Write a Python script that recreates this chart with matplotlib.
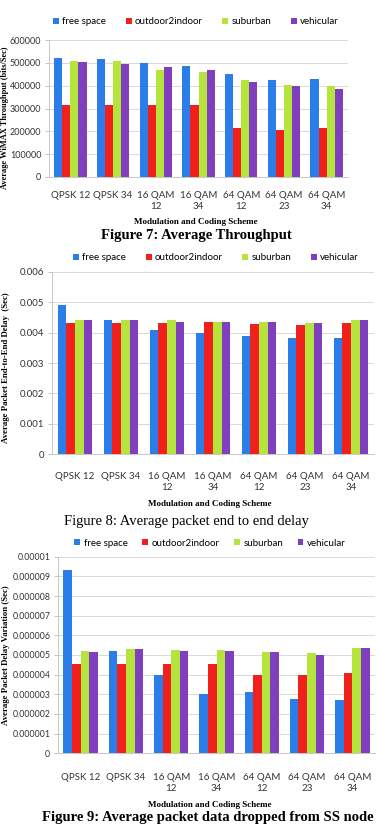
import matplotlib
matplotlib.use("Agg")
import matplotlib.pyplot as plt
import numpy as np

categories = ["QPSK 12", "QPSK 34", "16 QAM\n12", "16 QAM\n34", "64 QAM\n12", "64 QAM\n23", "64 QAM\n34"]
series_names = ["free space", "outdoor2indoor", "suburban", "vehicular"]

throughput_free = [520000, 516000, 500000, 488000, 450000, 425000, 430000]
throughput_o2i = [316000, 316000, 316000, 316000, 215000, 205000, 215000]
throughput_sub = [510000, 508000, 468000, 462000, 425000, 405000, 400000]
throughput_veh = [505000, 494000, 483000, 469000, 418000, 400000, 385000]

delay_free = [0.0049, 0.0044, 0.0041, 0.0040, 0.0039, 0.00383, 0.00383]
delay_o2i = [0.0043, 0.0043, 0.00433, 0.00435, 0.00427, 0.00425, 0.0043]
delay_sub = [0.0044, 0.0044, 0.0044, 0.00435, 0.00435, 0.00432, 0.0044]
delay_veh = [0.0044, 0.0044, 0.00435, 0.00435, 0.00435, 0.00432, 0.0044]

var_free = [9.3e-6, 5.2e-6, 4.0e-6, 3.0e-6, 3.1e-6, 2.75e-6, 2.7e-6]
var_o2i = [4.55e-6, 4.55e-6, 4.55e-6, 4.55e-6, 4.0e-6, 4.0e-6, 4.1e-6]
var_sub = [5.2e-6, 5.3e-6, 5.25e-6, 5.25e-6, 5.15e-6, 5.1e-6, 5.35e-6]
var_veh = [5.15e-6, 5.33e-6, 5.2e-6, 5.2e-6, 5.15e-6, 5.02e-6, 5.37e-6]

throughput_ticks = [0, 100000, 200000, 300000, 400000, 500000, 600000]
throughput_ticklabels = ["0", "100000", "200000", "300000", "400000", "500000", "600000"]
delay_ticks = [0, 0.001, 0.002, 0.003, 0.004, 0.005, 0.006]
delay_ticklabels = ["0", "0.001", "0.002", "0.003", "0.004", "0.005", "0.006"]
var_ticks = [0, 1e-6, 2e-6, 3e-6, 4e-6, 5e-6, 6e-6, 7e-6, 8e-6, 9e-6, 1e-5]
var_ticklabels = ["0", "0.000001", "0.000002", "0.000003", "0.000004", "0.000005",
                  "0.000006", "0.000007", "0.000008", "0.000009", "0.00001"]

colors = ["#2b7de9", "#f0201c", "#b5e43c", "#7f3fbf"]

W, H = 379, 824
fig = plt.figure(figsize=(W / 100, H / 100), dpi=100)
fig.patch.set_facecolor("white")

SANS = "Lato"
SERIF = "Liberation Serif"


def ax_px(l, t, r, b):
    return fig.add_axes([l / W, 1 - b / H, (r - l) / W, (b - t) / H])


def panel(box, data, ticks, ticklabels, ymax, legend_xy, colspace, xpad, ticksize):
    ax = ax_px(*box)
    x = np.arange(len(categories))
    group = 0.76
    bw = group / 4
    handles = []
    for i, (vals, c) in enumerate(zip(data, colors)):
        h = ax.bar(x - group / 2 + bw * (i + 0.5), vals, bw, color=c, edgecolor="none", zorder=3)
        handles.append(h)
    ax.set_xlim(-0.5, len(categories) - 0.5)
    ax.set_ylim(0, ymax)
    ax.set_yticks(ticks)
    ax.set_yticklabels(ticklabels, fontsize=ticksize, family=SANS, color="#333333")
    ax.set_xticks(x)
    ax.set_xticklabels(categories, fontsize=7, family=SANS, color="#333333", linespacing=1.3)
    ax.tick_params(axis="x", length=0, pad=xpad)
    ax.tick_params(axis="y", length=3, width=0.6, color="#bbbbbb", pad=2.5)
    ax.grid(axis="y", color="#d9d9d9", linewidth=0.7, zorder=0)
    for s in ["top", "right"]:
        ax.spines[s].set_visible(False)
    ax.spines["left"].set_color("#c8c8c8")
    ax.spines["bottom"].set_color("#c8c8c8")
    ax.spines["left"].set_linewidth(0.7)
    ax.spines["bottom"].set_linewidth(0.7)
    ax.legend(handles, series_names, ncol=4, loc="center",
              bbox_to_anchor=(legend_xy[0] / W, 1 - legend_xy[1] / H),
              bbox_transform=fig.transFigure, frameon=False,
              prop={"family": SANS, "size": 7}, handlelength=0.6, handleheight=0.6,
              handletextpad=0.35, columnspacing=colspace, borderpad=0)
    return ax


def ftext(x, y, s, **kw):
    fig.text(x / W, 1 - y / H, s, ha="center", va="center", **kw)


# Figure 7
panel((49, 40, 348, 177), [throughput_free, throughput_o2i, throughput_sub, throughput_veh],
      throughput_ticks, throughput_ticklabels, 600000, (196, 22), 2.0, 10, 6.5)
ftext(196, 222, "Modulation and Coding Scheme", family=SERIF, weight="bold", fontsize=6.5)
ftext(196, 236, "Figure 7: Average Throughput", family=SERIF, weight="bold", fontsize=10.5)
ftext(5, 118, "Average WiMAX Throughput (bits/Sec)", family=SERIF, weight="bold",
      fontsize=6.0, rotation=90)

# Figure 8
panel((52, 271.7, 374, 454.3), [delay_free, delay_o2i, delay_sub, delay_veh],
      delay_ticks, delay_ticklabels, 0.006, (216, 258), 2.0, 13, 7)
ftext(210, 504, "Modulation and Coding Scheme", family=SERIF, weight="bold", fontsize=6.5)
ftext(186, 521, "Figure 8: Average packet end to end delay", family=SERIF, fontsize=10.5)
ftext(6, 368, "Average Packet End-to-End Delay  (Sec)", family=SERIF, weight="bold",
      fontsize=6.3, rotation=90)

# Figure 9
panel((58, 556.7, 375, 753.3), [var_free, var_o2i, var_sub, var_veh],
      var_ticks, var_ticklabels, 1e-5, (210, 543), 1.5, 14, 6.3)
ftext(210, 805, "Modulation and Coding Scheme", family=SERIF, weight="bold", fontsize=6.5)
ftext(208, 817, "Figure 9: Average packet data dropped from SS node", family=SERIF,
      weight="bold", fontsize=10.5)
ftext(6, 655, "Average Packet Delay Variation (Sec)", family=SERIF, weight="bold",
      fontsize=6.3, rotation=90)

fig.savefig("out.png", dpi=100)
